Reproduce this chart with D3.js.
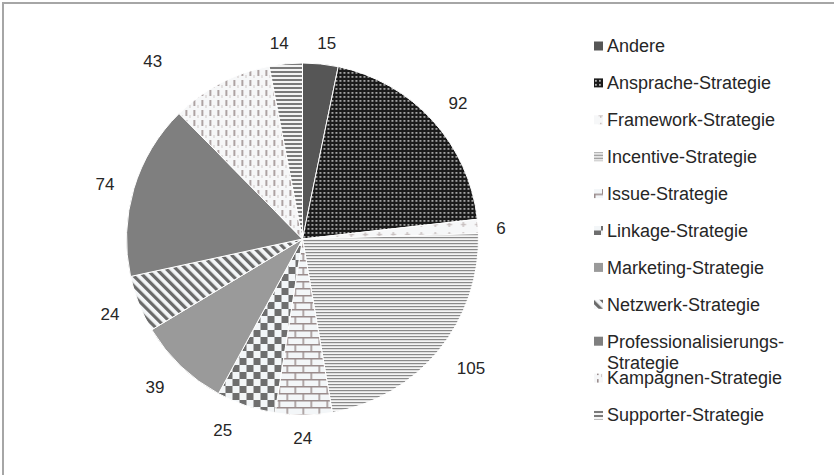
<html>
<head>
<meta charset="utf-8">
<script src="https://d3js.org/d3.v7.min.js"></script>
<style>
  body { margin: 0; background: #fff; }
  text { font-family: "Liberation Sans", Arial, sans-serif; }
</style>
</head>
<body>
<div id="chart"></div>
<script>
// values per category, clockwise from 12 o'clock
var categories = ["Andere", "Ansprache-Strategie", "Framework-Strategie", "Incentive-Strategie",
  "Issue-Strategie", "Linkage-Strategie", "Marketing-Strategie", "Netzwerk-Strategie",
  "Professionalisierungs-Strategie", "Kampagnen-Strategie", "Supporter-Strategie"];
var counts = [15, 92, 6, 105, 24, 25, 39, 24, 74, 43, 14];
var fills = ["solid-andere", "p-ansprache", "p-framework", "p-incentive", "p-issue", "p-linkage",
  "solid-marketing", "p-netzwerk", "solid-prof", "p-kampagnen", "p-supporter"];

var width = 834, height = 475;
var cx = 302.5, cy = 239, radius = 176;

var svg = d3.select("#chart").append("svg")
  .attr("width", width)
  .attr("height", height);

// frame (top + left edge visible)
svg.append("rect")
  .attr("x", 3).attr("y", 3)
  .attr("width", 900).attr("height", 600)
  .attr("fill", "none")
  .attr("stroke", "#a6a6a6")
  .attr("stroke-width", 2);

// ---- patterns ----
var defs = svg.append("defs");
function pat(id, w, h, tf) {
  var p = defs.append("pattern").attr("id", id)
    .attr("patternUnits", "userSpaceOnUse")
    .attr("width", w).attr("height", h);
  if (tf) p.attr("patternTransform", tf);
  return p;
}
var p;
// dotted grid on black
p = pat("p-ansprache", 4, 4);
p.append("rect").attr("width", 4).attr("height", 4).attr("fill", "#1a1a1a");
p.append("rect").attr("x", 1).attr("y", 1).attr("width", 1.8).attr("height", 1.8).attr("fill", "#b0b0b0");
// sparse plus signs
p = pat("p-framework", 14, 10);
p.append("rect").attr("width", 14).attr("height", 10).attr("fill", "#f6f7f8");
p.append("rect").attr("x", 6).attr("y", 3).attr("width", 1.5).attr("height", 5).attr("fill", "#c8c0c0");
p.append("rect").attr("x", 4.5).attr("y", 4.8).attr("width", 5).attr("height", 1.5).attr("fill", "#c8c0c0");
// thin horizontal lines
p = pat("p-incentive", 4, 3);
p.append("rect").attr("width", 4).attr("height", 3).attr("fill", "#f4f4f4");
p.append("rect").attr("y", 1).attr("width", 4).attr("height", 1.2).attr("fill", "#8a8a8a");
// bricks
p = pat("p-issue", 16, 14);
p.append("rect").attr("width", 16).attr("height", 14).attr("fill", "#f3f6f8");
p.append("rect").attr("y", 0).attr("width", 16).attr("height", 1.5).attr("fill", "#9a8c8c");
p.append("rect").attr("y", 7).attr("width", 16).attr("height", 1.5).attr("fill", "#9a8c8c");
p.append("rect").attr("x", 0).attr("y", 0).attr("width", 1.5).attr("height", 7).attr("fill", "#9a8c8c");
p.append("rect").attr("x", 8).attr("y", 7).attr("width", 1.5).attr("height", 7).attr("fill", "#9a8c8c");
// checkerboard
p = pat("p-linkage", 14, 14);
p.append("rect").attr("width", 14).attr("height", 14).attr("fill", "#f3f6f8");
p.append("rect").attr("width", 7).attr("height", 7).attr("fill", "#6e6e6e");
p.append("rect").attr("x", 7).attr("y", 7).attr("width", 7).attr("height", 7).attr("fill", "#6e6e6e");
// diagonal stripes
p = pat("p-netzwerk", 7, 7, "rotate(-45)");
p.append("rect").attr("width", 7).attr("height", 7).attr("fill", "#f4f6f8");
p.append("rect").attr("width", 3.2).attr("height", 7).attr("fill", "#6a6a6a");
// vertical dashes
p = pat("p-kampagnen", 8, 10);
p.append("rect").attr("width", 8).attr("height", 10).attr("fill", "#f6f7f8");
p.append("rect").attr("x", 3).attr("y", 1).attr("width", 1.6).attr("height", 6).attr("fill", "#9b8e8e");
p.append("rect").attr("x", 7).attr("y", 6).attr("width", 1).attr("height", 3).attr("fill", "#d0c8c8");
// horizontal stripes
p = pat("p-supporter", 4, 4);
p.append("rect").attr("width", 4).attr("height", 4).attr("fill", "#f4f4f4");
p.append("rect").attr("width", 4).attr("height", 2).attr("fill", "#7a7a7a");

var solid = { "solid-andere": "#565656", "solid-marketing": "#9a9a9a", "solid-prof": "#7f7f7f" };
function fillOf(i) {
  var f = fills[i];
  return solid[f] ? solid[f] : "url(#" + f + ")";
}

// ---- pie ----
var pie = d3.pie().sort(null).value(function(d) { return d; });
var arc = d3.arc().innerRadius(0).outerRadius(radius);
var arcs = pie(counts);

var g = svg.append("g").attr("transform", "translate(" + cx + "," + cy + ")");
g.selectAll("path")
  .data(arcs)
  .enter()
  .append("path")
  .attr("d", arc)
  .attr("fill", function(d, i) { return fillOf(i); })
  .attr("stroke", "#ffffff")
  .attr("stroke-width", 1);

// data labels: mid angle plus small nudges (degrees) and distance beyond the rim
var labelTurn = [1.2, 1.2, 0.9, -1.9, 0.3, 3.9, 1.2, 0.4, -1.0, -12.3, -1.3];
var labelGap = [21.5, 30.6, 22.8, 36, 23, 31, 33, 30.6, 29, 57, 21.5];
function labelPos(d, i) {
  var a = (d.startAngle + d.endAngle) / 2 + labelTurn[i] * Math.PI / 180;
  return [Math.sin(a) * (radius + labelGap[i]), -Math.cos(a) * (radius + labelGap[i])];
}
g.selectAll("text.lbl")
  .data(arcs)
  .enter()
  .append("text")
  .attr("class", "lbl")
  .attr("x", function(d, i) { return labelPos(d, i)[0]; })
  .attr("y", function(d, i) { return labelPos(d, i)[1]; })
  .attr("dy", "0.35em")
  .attr("text-anchor", "middle")
  .style("font-size", "17px")
  .style("fill", "#262626")
  .text(function(d) { return d.data; });

// ---- legend ----
var legendX = 594, legendY = 46, legendStep = 36.9;
var legend = svg.append("g");
var items = legend.selectAll("g")
  .data(categories)
  .enter()
  .append("g")
  .attr("transform", function(d, i) { return "translate(" + legendX + "," + (legendY + i * legendStep) + ")"; });

items.append("rect")
  .attr("x", 0).attr("y", -4.5)
  .attr("width", 9).attr("height", 9)
  .attr("fill", function(d, i) { return fillOf(i); });

items.append("text")
  .attr("x", 13)
  .attr("dy", "0.35em")
  .style("font-size", "18px")
  .style("fill", "#262626")
  .text(function(d) { return d; })
  .each(function(d) {
    var t = d3.select(this);
    if (this.getComputedTextLength() > 215) {
      var cut = d.indexOf("-") + 1;
      t.text(null);
      t.append("tspan").attr("x", 13).attr("dy", "0.35em").text(d.slice(0, cut));
      t.append("tspan").attr("x", 13).attr("dy", "1.2em").text(d.slice(cut));
      t.attr("dy", null);
    }
  });
</script>
</body>
</html>
